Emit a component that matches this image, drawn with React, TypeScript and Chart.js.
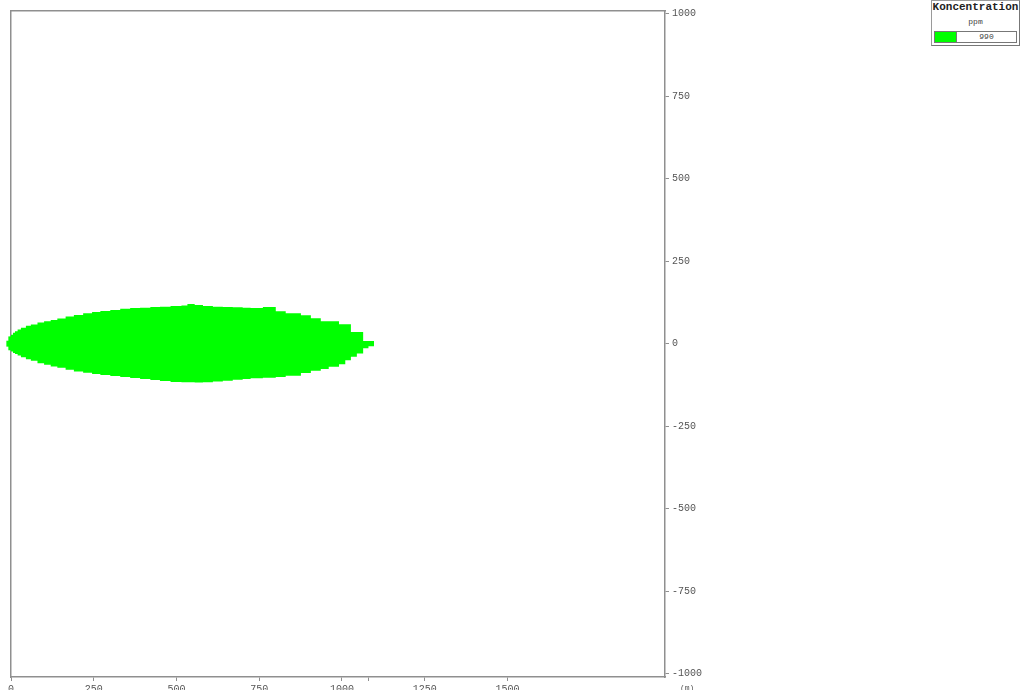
import { useEffect, useRef } from 'react';
import { Chart, registerables } from 'chart.js';

Chart.register(...registerables);

// Plume footprint: left edge of each step (m downwind) and the cloud's
// upper / lower crosswind extent (m) for that step.
const distanceM = [
  0, 6, 12, 20, 30, 45, 60, 80, 100, 120, 140, 165, 190, 218, 245,
  270, 300, 330, 360, 390, 421, 450, 482, 515, 533, 555, 580, 610, 640, 670, 700,
  724, 761, 800, 830, 876, 906, 936, 960, 991, 1010, 1027, 1045, 1064, 1080, 1097,
];
const upperEdgeM = [
  27, 33, 38, 43, 48, 54, 58, 64, 68, 72, 76, 82, 87, 92, 96,
  99, 102, 106, 108, 109, 111, 112, 114, 116, 120, 117, 114, 112, 111, 110, 109,
  108, 111, 98, 92, 86, 77, 68, 68, 59, 59, 35, 35, 8, 8, 8,
];
const lowerEdgeM = [
  -24, -28, -31, -36, -41, -47, -52, -59, -64, -69, -73, -79, -84, -88, -92,
  -95, -98, -101, -104, -107, -110, -113, -116, -117, -117, -118, -117, -115, -112, -109, -107,
  -105, -103, -101, -97, -89, -82, -77, -70, -62, -50, -40, -30, -14, -8, -8,
];

// Upwind tip of the cloud, just behind the source (x < 0).
const tipDistanceM = [-10, -4];
const tipUpperM = [8, 21];
const tipLowerM = [-8, -19];

const xTickValues = [0, 250, 500, 750, 1000, 1250, 1500];
const xTickLabels = ['0', '250', '500', '750', '1000', '1250', '1500'];
const plumeEndMarkM = 1081;
const yTickValues = [1000, 750, 500, 250, 0, -250, -500, -750, -1000];
const yTickLabels = ['1000', '750', '500', '250', '0', '-250', '-500', '-750', '-1000'];

const legendTitle = 'Koncentration';
const legendUnit = 'ppm';
const legendLevels = ['990'];
const legendColors = ['#00ff00'];
const axisUnit = '(m)';

const frameColor = '#8f8f8f';
const labelColor = '#555555';
const monoFont = '"Liberation Mono", "DejaVu Sans Mono", monospace';

export default function App() {
  const canvasRef = useRef<HTMLCanvasElement | null>(null);

  useEffect(() => {
    const canvas = canvasRef.current;
    if (!canvas) return;

    const upper = distanceM.map((x, i) => ({ x, y: upperEdgeM[i] }));
    const lower = distanceM.map((x, i) => ({ x, y: lowerEdgeM[i] }));
    const tip = tipDistanceM.map((x, i) => ({ x, y: [tipLowerM[i], tipUpperM[i]] }));

    const chart = new Chart(canvas, {
      type: 'line',
      data: {
        datasets: [
          {
            type: 'line',
            data: upper,
            stepped: true,
            fill: '+1',
            backgroundColor: legendColors[0],
            borderWidth: 0,
            pointRadius: 0,
          },
          {
            type: 'line',
            data: lower,
            stepped: true,
            fill: false,
            borderWidth: 0,
            pointRadius: 0,
          },
          {
            type: 'bar',
            data: tip as any,
            backgroundColor: legendColors[0],
            borderWidth: 0,
            barThickness: 2,
            clip: false as any,
          } as any,
        ],
      },
      options: {
        animation: false,
        responsive: false,
        events: [],
        layout: { padding: { left: 11, top: 11, right: 0, bottom: 0 } },
        plugins: { legend: { display: false }, tooltip: { enabled: false } },
        scales: {
          x: {
            type: 'linear',
            position: 'bottom',
            min: 0,
            max: 1976,
            offset: false,
            afterBuildTicks: (s: any) => {
              s.ticks = [...xTickValues, plumeEndMarkM].map((value) => ({ value }));
            },
            afterFit: (s: any) => {
              s.height = 13;
            },
            grid: {
              drawOnChartArea: false,
              drawTicks: true,
              tickLength: 4,
              color: frameColor,
              lineWidth: 1,
              offset: false,
            },
            border: { display: true, color: frameColor, width: 1.5 },
            ticks: {
              autoSkip: false,
              maxRotation: 0,
              padding: 2,
              color: labelColor,
              font: { family: monoFont, size: 10 },
              callback: (v: any) => {
                const i = xTickValues.indexOf(Number(v));
                return i >= 0 ? xTickLabels[i] : '';
              },
            },
          },
          y: {
            type: 'linear',
            position: 'right',
            min: -1010,
            max: 1008,
            afterBuildTicks: (s: any) => {
              s.ticks = yTickValues.map((value) => ({ value }));
            },
            afterFit: (s: any) => {
              s.width = 356;
            },
            grid: {
              drawOnChartArea: false,
              drawTicks: true,
              tickLength: 4,
              color: frameColor,
              lineWidth: 1,
            },
            border: { display: true, color: frameColor, width: 1.5 },
            ticks: {
              autoSkip: false,
              padding: 3,
              color: labelColor,
              font: { family: monoFont, size: 10 },
              callback: (v: any) => {
                const i = yTickValues.indexOf(Number(v));
                return i >= 0 ? yTickLabels[i] : '';
              },
            },
          },
          xTop: {
            type: 'linear',
            position: 'top',
            afterFit: (s: any) => {
              s.height = 0;
            },
            grid: { display: false, drawTicks: false },
            border: { display: true, color: frameColor, width: 1.5 },
            ticks: { display: false },
          },
          yLeft: {
            type: 'linear',
            position: 'left',
            afterFit: (s: any) => {
              s.width = 0;
            },
            grid: { display: false, drawTicks: false },
            border: { display: true, color: frameColor, width: 1.5 },
            ticks: { display: false },
          },
        },
      },
    });

    return () => chart.destroy();
  }, []);

  return (
    <div
      style={{
        position: 'absolute',
        left: 0,
        top: 0,
        width: 1021,
        height: 690,
        background: '#ffffff',
        overflow: 'hidden',
      }}
    >
      <canvas ref={canvasRef} width={1021} height={690} style={{ display: 'block' }} />
      <div
        style={{
          position: 'absolute',
          left: 680,
          top: 683,
          fontFamily: monoFont,
          fontSize: 8,
          color: labelColor,
          lineHeight: '10px',
        }}
      >
        {axisUnit}
      </div>
      <div
        style={{
          position: 'absolute',
          left: 931,
          top: 0,
          width: 87,
          height: 44,
          border: '1px solid #9a9a9a',
          borderRightColor: '#777',
          borderBottomColor: '#777',
          background: '#ffffff',
          fontFamily: monoFont,
          color: '#222',
        }}
      >
        <div
          style={{
            textAlign: 'center',
            fontWeight: 'bold',
            fontSize: 11,
            lineHeight: '13px',
            marginTop: 0,
            whiteSpace: 'nowrap',
          }}
        >
          {legendTitle}
        </div>
        <div
          style={{
            textAlign: 'center',
            fontSize: 8,
            lineHeight: '10px',
            marginTop: 3,
            color: '#444',
          }}
        >
          {legendUnit}
        </div>
        {legendLevels.map((lvl, i) => (
          <div
            key={lvl}
            style={{
              position: 'absolute',
              left: 2,
              top: 30,
              width: 81,
              height: 10,
              border: '1px solid #777',
              display: 'flex',
            }}
          >
            <div
              style={{
                width: 21,
                height: 10,
                background: legendColors[i],
                borderRight: '1px solid #777',
              }}
            />
            <div
              style={{
                flex: 1,
                textAlign: 'center',
                fontSize: 8,
                lineHeight: '10px',
                color: '#444',
              }}
            >
              {lvl}
            </div>
          </div>
        ))}
      </div>
    </div>
  );
}
